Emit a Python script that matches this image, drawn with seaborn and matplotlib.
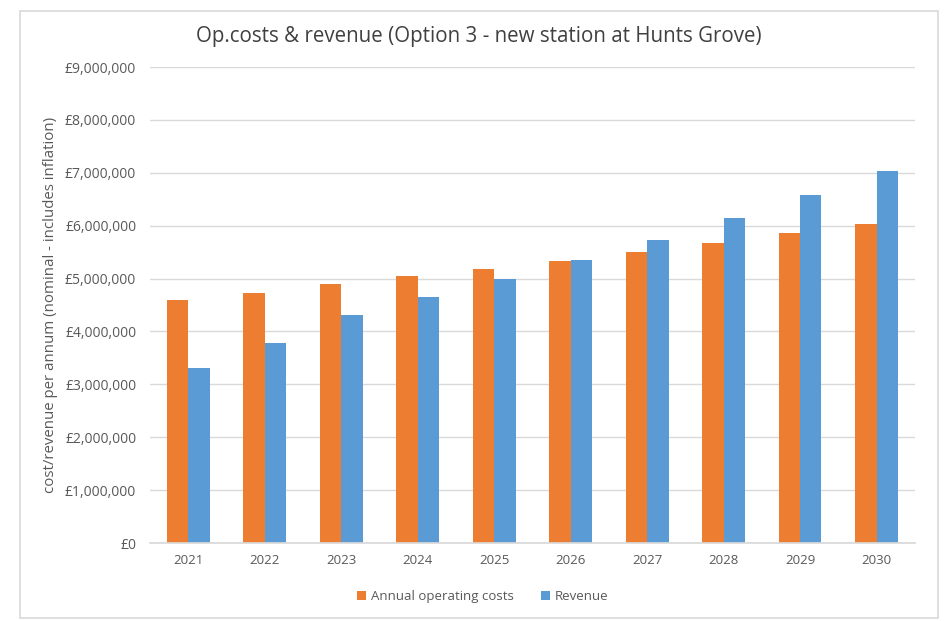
import matplotlib
matplotlib.use("Agg")
import matplotlib.pyplot as plt
import matplotlib.ticker as mticker
from matplotlib.patches import Rectangle
import seaborn as sns
import pandas as pd

years = ["2021", "2022", "2023", "2024", "2025", "2026", "2027", "2028", "2029", "2030"]
op_costs = [4595000, 4735000, 4890000, 5040000, 5190000, 5335000, 5510000, 5680000, 5860000, 6040000]
revenue = [3300000, 3780000, 4320000, 4650000, 5000000, 5360000, 5735000, 6140000, 6590000, 7030000]
series_names = ["Annual operating costs", "Revenue"]
colors = ["#ED7D31", "#5B9BD5"]

df = pd.DataFrame({
    "year": years * 2,
    "value": op_costs + revenue,
    "series": [series_names[0]] * len(years) + [series_names[1]] * len(years),
})

sns.set_theme(style="white")
plt.rcParams["font.family"] = ["Open Sans", "DejaVu Sans"]

fig = plt.figure(figsize=(9.44, 6.21), dpi=100)
ax = fig.add_axes([0.159, 0.1256, 0.81, 0.7664])

sns.barplot(data=df, x="year", y="value", hue="series", palette=colors,
            width=0.56, gap=0, ax=ax, saturation=1, errorbar=None, linewidth=0)

ax.set_ylim(0, 9000000)
ax.yaxis.set_major_locator(mticker.MultipleLocator(1000000))
ax.yaxis.set_major_formatter(mticker.FuncFormatter(lambda v, p: "£{:,.0f}".format(v)))
ax.grid(axis="y", color="#D9D9D9", linewidth=1)
ax.set_axisbelow(True)
for s in ["top", "right", "left"]:
    ax.spines[s].set_visible(False)
ax.spines["bottom"].set_color("#D9D9D9")
ax.tick_params(axis="y", colors="#595959", labelsize=10, length=0, pad=10)
ax.tick_params(axis="x", colors="#595959", labelsize=9.5, length=0, pad=8)
ax.set_xlabel("")
ax.set_ylabel("cost/revenue per annum (nominal - includes inflation)", color="#595959", fontsize=10.8, labelpad=5)

fig.text(0.507, 1 - 42 / 621, "Op.costs & revenue (Option 3 - new station at Hunts Grove)",
         ha="center", va="baseline", fontsize=14.8, color="#404040")

leg = ax.legend(loc="center", bbox_to_anchor=(0.435, -0.113), ncol=2, frameon=False,
                fontsize=9.5, handlelength=0.7, handleheight=0.7, columnspacing=2.0, handletextpad=0.4)
for t in leg.get_texts():
    t.set_color("#595959")

fig.patches.append(Rectangle((20 / 944, 3 / 621), 918 / 944, 607 / 621, transform=fig.transFigure,
                             fill=False, edgecolor="#D9D9D9", linewidth=1.2))

fig.savefig("out.png", dpi=100)
